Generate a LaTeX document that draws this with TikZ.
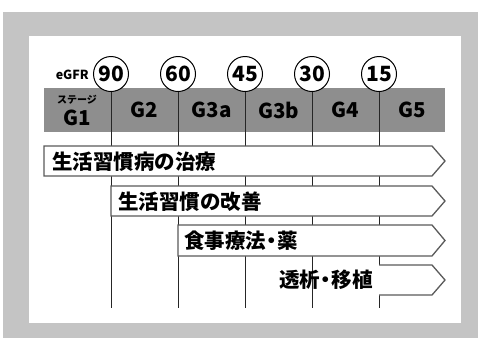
\documentclass[tikz,border=0pt]{standalone}
\usepackage{fontspec}
\setmainfont{Noto Sans CJK JP}
\definecolor{bgcol}{HTML}{C4C4C4}
\definecolor{barcol}{HTML}{8E8E8E}
\definecolor{edgecol}{HTML}{5A5A5A}
\newcommand{\nak}{\hspace{-0.22em}・\hspace{-0.22em}}
\begin{document}
\begin{tikzpicture}[x=1pt,y=-1pt,
  vline/.style={draw=black!85,line width=0.9pt},
  numcirc/.style={circle,draw=black,line width=1pt,fill=white,minimum size=35pt,inner sep=0pt,font=\fontsize{21}{22}\selectfont\bfseries},
  stagelbl/.style={font=\fontsize{20.5}{22}\selectfont\bfseries,inner sep=0pt},
  arrowbox/.style={draw=edgecol,fill=white,line width=1.3pt,line join=miter},
  armtext/.style={font=\fontsize{20.5}{24}\selectfont\bfseries,inner sep=0pt}]
\useasboundingbox (0,0) rectangle (478,338);
\fill[bgcol] (3,12) rectangle (478,338);
\fill[white] (29,36) rectangle (461,323);
\fill[barcol] (44,88) rectangle (445,132);
% circles
\node[numcirc] (c90) at (111,74) {90};
\node[numcirc] (c60) at (178,74) {60};
\node[numcirc] (c45) at (245,74) {45};
\node[numcirc] (c30) at (312,74) {30};
\node[numcirc] (c15) at (379,74) {15};
\node[font=\fontsize{12.5}{14}\selectfont\bfseries,anchor=east,inner sep=0pt] (egfr) at (89,75) {eGFR};
% vertical lines end points
\coordinate (e90) at (111,308);
\coordinate (e60) at (178,308);
\coordinate (e45) at (245,308);
\coordinate (e30) at (312,308);
\coordinate (e15) at (379,308);
\foreach \n in {90,60,45,30,15} {\draw[vline] (c\n.south) -- (e\n);}
% stage labels
\node[font=\fontsize{10}{11}\selectfont\bfseries,inner sep=0pt] (st) at (77,100) {ステージ};
\node[stagelbl] (g1) at (77.5,118) {G1};
\node[stagelbl] (g2) at (144.5,110) {G2};
\node[stagelbl] (g3a) at (211.5,110) {G3a};
\node[stagelbl] (g3b) at (278.5,110) {G3b};
\node[stagelbl] (g4) at (345.5,110) {G4};
\node[stagelbl] (g5) at (412,110) {G5};
% arrows
\draw[arrowbox] (44,146) -- (432,146) -- (445,161) -- (432,176) -- (44,176) -- cycle;
\draw[arrowbox] (111,186) -- (432,186) -- (445,201) -- (432,216) -- (111,216) -- cycle;
\draw[arrowbox] (178,225) -- (432,225) -- (445,240.5) -- (432,256) -- (178,256) -- cycle;
\draw[arrowbox] (379,265) -- (432,265) -- (445,280) -- (432,295) -- (379,295);
\node[armtext,anchor=west] (t1) at (52,162) {生活習慣病の治療};
\node[armtext,anchor=west] (t2) at (118,202) {生活習慣の改善};
\node[armtext,anchor=west] (t3) at (184,241) {食事療法\nak 薬};
\node[armtext,anchor=east] (t4) at (373,280) {透析\nak 移植};
\end{tikzpicture}
\end{document}
